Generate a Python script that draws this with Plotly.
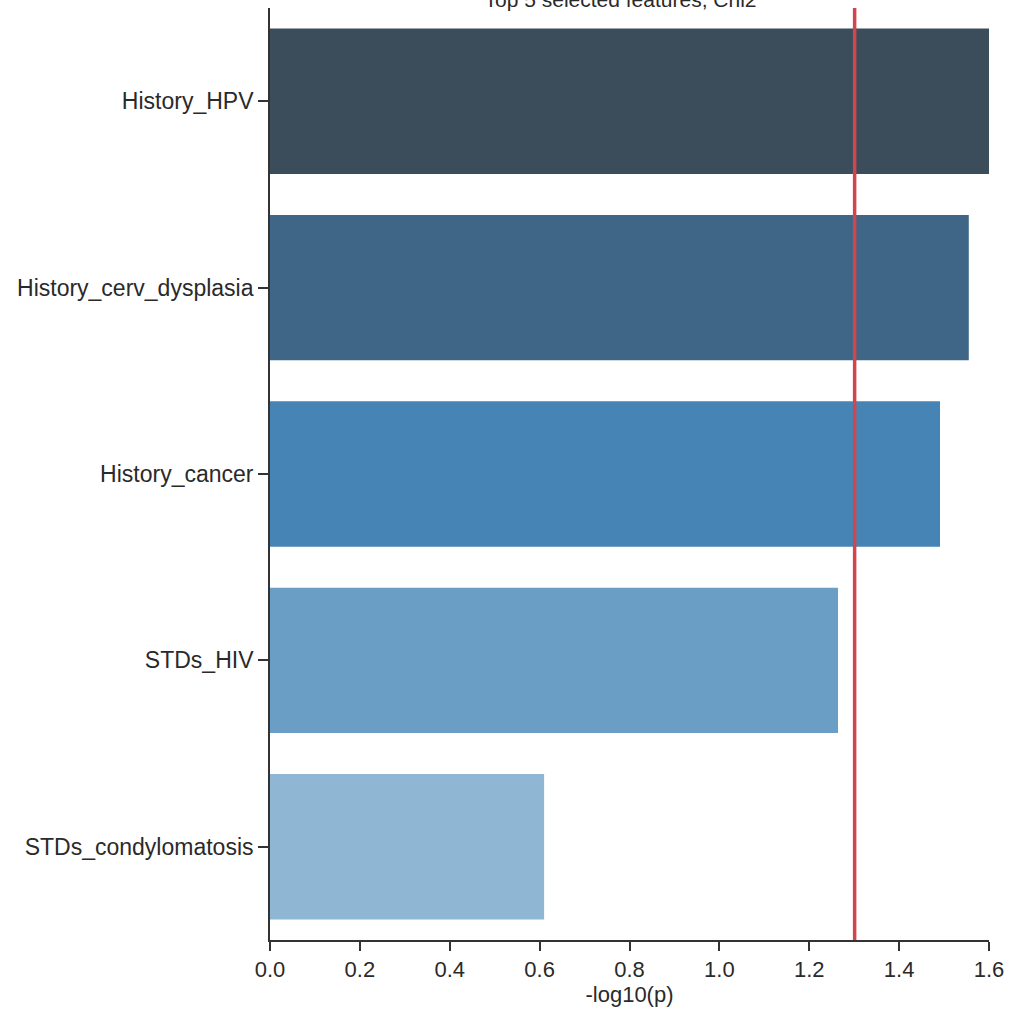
import plotly.graph_objects as go

# Feature significance scores (chi-square test), strongest first
features = ["History_HPV", "History_cerv_dysplasia", "History_cancer", "STDs_HIV", "STDs_condylomatosis"]
neg_log_p = [1.60, 1.555, 1.491, 1.264, 0.610]
bar_colors = ["#3b4c5b", "#3f6686", "#4584b5", "#6a9ec5", "#8fb6d2"]
threshold = 1.301  # -log10(0.05)
x_ticks = [0.0, 0.2, 0.4, 0.6, 0.8, 1.0, 1.2, 1.4, 1.6]

fig = go.Figure()
fig.add_trace(go.Bar(
    x=neg_log_p,
    y=features,
    orientation="h",
    width=0.78,
    marker=dict(color=bar_colors, line=dict(width=0)),
    showlegend=False,
))

fig.add_shape(
    type="line", xref="x", yref="paper",
    x0=threshold, x1=threshold, y0=0, y1=1,
    line=dict(color="#cf474d", width=3.5),
)

fig.update_layout(
    width=1009, height=1013,
    margin=dict(l=270, r=20, t=8, b=73, autoexpand=False),
    plot_bgcolor="white", paper_bgcolor="white",
    font=dict(family="Liberation Sans, Arial", size=21, color="#2a2a2a"),
    title=dict(
        text="Top 5 selected features, Chi2",
        x=0.615, xanchor="center",
        y=1.0, yref="container", yanchor="middle",
        font=dict(size=21, color="#2a2a2a"),
    ),
    bargap=0.22,
)

fig.update_xaxes(
    range=[0, 1.6],
    tickvals=x_ticks,
    ticktext=[f"{v:.1f}" for v in x_ticks],
    tickfont=dict(size=22),
    ticks="outside", ticklen=9, tickwidth=1.5, tickcolor="#333333",
    showline=True, linecolor="#333333", linewidth=1.8,
    showgrid=False, zeroline=False, automargin=False,
    title=dict(text="-log10(p)", standoff=2, font=dict(size=22)),
)
fig.update_yaxes(
    categoryorder="array", categoryarray=features,
    autorange="reversed",
    tickfont=dict(size=23),
    ticks="outside", ticklen=10, tickwidth=1.5, tickcolor="#333333",
    showline=True, linecolor="#333333", linewidth=1.8,
    showgrid=False, zeroline=False, automargin=False,
)

fig.write_html("out.html")
